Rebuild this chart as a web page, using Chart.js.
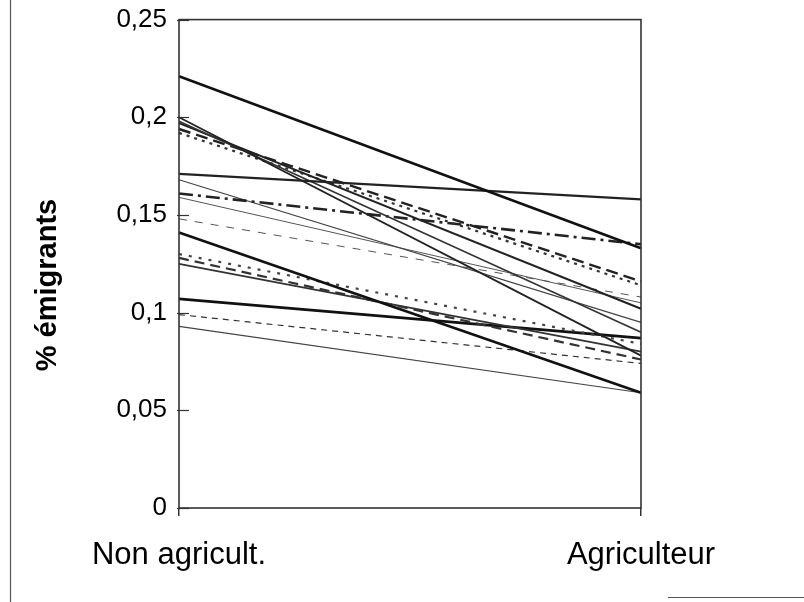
<!DOCTYPE html>
<html>
<head>
<meta charset="utf-8">
<script src="https://cdn.jsdelivr.net/npm/chart.js@4/dist/chart.umd.min.js"></script>
<style>
html,body{margin:0;padding:0;background:#fff;}
#wrap{position:relative;width:804px;height:602px;}
</style>
</head>
<body>
<div id="wrap"><canvas id="c" width="804" height="602"></canvas></div>
<script>
// Categories (x axis)
const categories = ["Non agricult.", "Agriculteur"];
// Y tick labels
const yTickLabels = ["0", "0,05", "0,1", "0,15", "0,2", "0,25"];
const yTitle = "% émigrants";
// Series values: [Non agricult., Agriculteur]
const s01 = [0.221, 0.133];
const s02 = [0.171, 0.158];
const s03 = [0.200, 0.078];
const s04 = [0.198, 0.090];
const s05 = [0.197, 0.102];
const s06 = [0.194, 0.116];
const s07 = [0.192, 0.114];
const s08 = [0.161, 0.135];
const s09 = [0.168, 0.095];
const s10 = [0.159, 0.105];
const s11 = [0.148, 0.108];
const s12 = [0.141, 0.059];
const s13 = [0.130, 0.084];
const s14 = [0.128, 0.076];
const s15 = [0.125, 0.080];
const s16 = [0.107, 0.087];
const s17 = [0.099, 0.074];
const s18 = [0.093, 0.059];

const seriesList = [
  {data: s01, color: "#111", width: 2.6, dash: []},
  {data: s02, color: "#222", width: 2.2, dash: []},
  {data: s03, color: "#222", width: 1.8, dash: []},
  {data: s04, color: "#333", width: 1.6, dash: []},
  {data: s05, color: "#222", width: 2.0, dash: []},
  {data: s06, color: "#222", width: 2.4, dash: [12, 6]},
  {data: s07, color: "#333", width: 2.2, dash: [3, 5]},
  {data: s08, color: "#222", width: 2.6, dash: [14, 5, 3, 5]},
  {data: s09, color: "#444", width: 1.2, dash: []},
  {data: s10, color: "#555", width: 1.0, dash: []},
  {data: s11, color: "#555", width: 1.0, dash: [8, 8]},
  {data: s12, color: "#111", width: 2.6, dash: []},
  {data: s13, color: "#444", width: 2.2, dash: [3, 7]},
  {data: s14, color: "#333", width: 2.2, dash: [10, 6]},
  {data: s15, color: "#333", width: 1.8, dash: []},
  {data: s16, color: "#111", width: 2.8, dash: []},
  {data: s17, color: "#333", width: 1.2, dash: [6, 5]},
  {data: s18, color: "#444", width: 1.2, dash: []}
];

const frame = {
  id: "frame",
  afterDraw(chart) {
    const ctx = chart.ctx;
    const a = chart.chartArea;
    const ys = chart.scales.y;
    ctx.save();
    ctx.strokeStyle = "#333";
    ctx.lineWidth = 1.6;
    ctx.strokeRect(a.left, a.top, a.right - a.left, a.bottom - a.top);
    // inward y ticks
    ctx.lineWidth = 1.2;
    ys.ticks.forEach(t => {
      const y = Math.round(ys.getPixelForValue(t.value)) + 0.5;
      ctx.beginPath();
      ctx.moveTo(a.left - 2, y);
      ctx.lineTo(a.left + 10, y);
      ctx.stroke();
    });
    // y axis title
    ctx.fillStyle = "#000";
    ctx.font = "bold 29px 'Liberation Sans', Arial";
    ctx.textAlign = "center";
    ctx.textBaseline = "middle";
    ctx.translate(48, 285);
    ctx.rotate(-Math.PI / 2);
    ctx.fillText(yTitle, 0, 0);
    ctx.setTransform(1, 0, 0, 1, 0, 0);
    // outer chart frame lines
    ctx.strokeStyle = "#555";
    ctx.lineWidth = 1.2;
    ctx.beginPath();
    ctx.moveTo(10.5, 0);
    ctx.lineTo(10.5, 602);
    ctx.stroke();
    ctx.beginPath();
    ctx.moveTo(668, 597.5);
    ctx.lineTo(804, 597.5);
    ctx.stroke();
    ctx.restore();
  }
};

new Chart(document.getElementById("c"), {
  type: "line",
  data: {
    labels: categories,
    datasets: seriesList.map((s, i) => ({
      label: "S" + (i + 1),
      data: s.data,
      borderColor: s.color,
      borderWidth: s.width,
      borderDash: s.dash,
      pointRadius: 0,
      fill: false,
      tension: 0
    }))
  },
  options: {
    responsive: false,
    animation: false,
    layout: {padding: {top: 14, right: 163, left: 0, bottom: 0}},
    plugins: {legend: {display: false}, tooltip: {enabled: false}},
    scales: {
      x: {
        offset: false,
        grid: {display: true, drawOnChartArea: false, drawTicks: true, tickLength: 8, color: "#333", lineWidth: 1.5},
        border: {display: false},
        ticks: {color: "#000", font: {family: "Liberation Sans, Arial", size: 31}, padding: 21, maxRotation: 0, autoSkip: false},
        afterFit(scale) { scale.height = 602 - 508; }
      },
      y: {
        min: 0, max: 0.25,
        grid: {display: false},
        border: {display: false},
        ticks: {
          stepSize: 0.05,
          color: "#000",
          font: {family: "Liberation Sans, Arial", size: 26},
          padding: 4,
          callback: (v, i) => yTickLabels[i]
        },
        afterFit(scale) { scale.width = 179; }
      }
    }
  },
  plugins: [frame]
});
</script>
</body>
</html>
